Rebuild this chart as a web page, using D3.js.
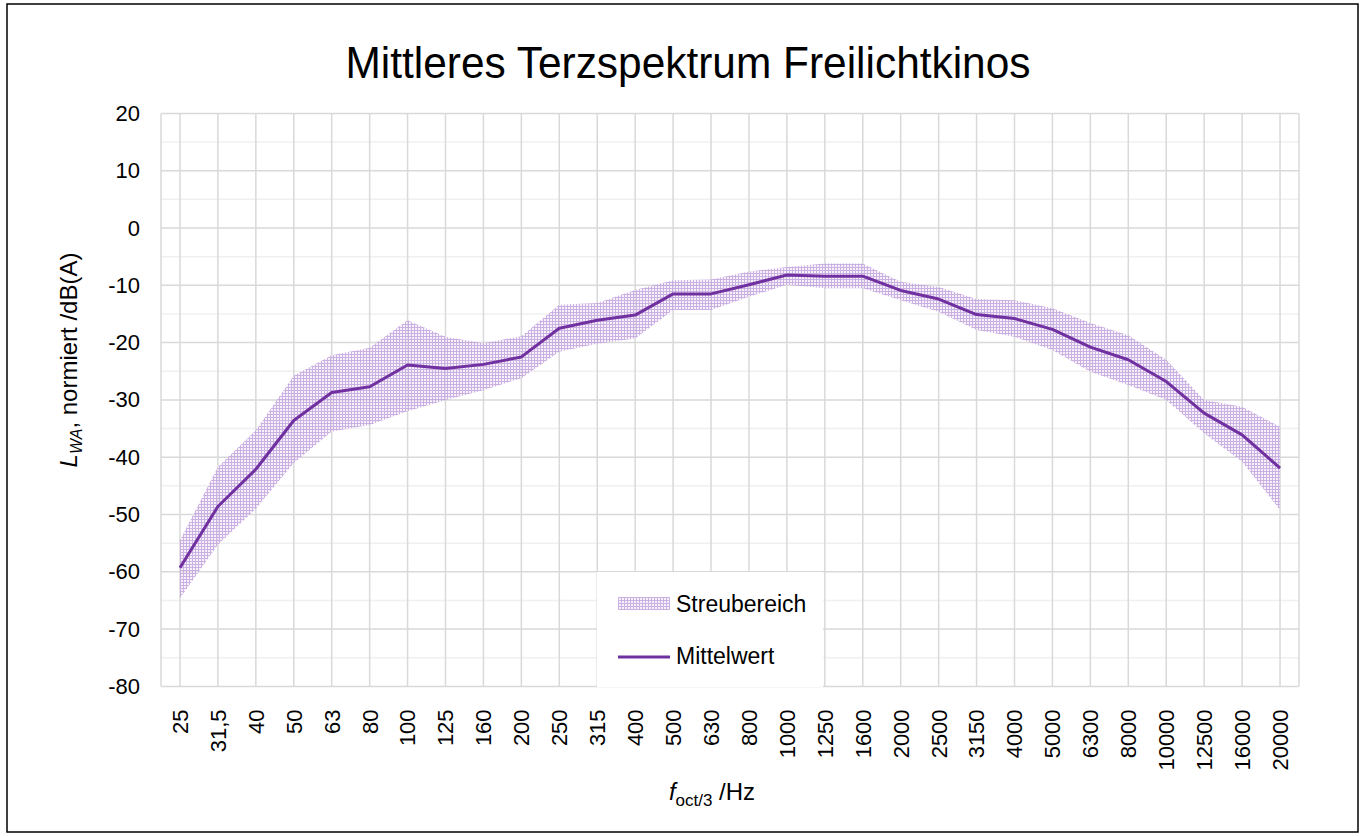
<!DOCTYPE html>
<html lang="de">
<head>
  <meta charset="UTF-8">
  <title>Mittleres Terzspektrum Freilichtkinos</title>
  <script src="https://d3js.org/d3.v7.min.js"></script>
  <style>
    body {
      margin: 0;
      background: #fff;
      font-family: "Liberation Sans", Arial, sans-serif;
    }
    svg text {
      fill: #000;
    }
    .grid-major line {
      stroke: #d9d9d9;
      stroke-width: 1.5px;
    }
    .grid-minor line {
      stroke: #f0f0f0;
      stroke-width: 1.5px;
    }
    .tick text {
      font-size: 22px;
    }
  </style>
</head>
<body>
  <svg id="chart" width="1360" height="836"></svg>

  <script>
    // Terzband-Mittenfrequenzen
    const categories = ["25", "31,5", "40", "50", "63", "80", "100", "125", "160", "200",
      "250", "315", "400", "500", "630", "800", "1000", "1250", "1600", "2000",
      "2500", "3150", "4000", "5000", "6300", "8000", "10000", "12500", "16000", "20000"];

    // Mittelwert
    const meanValues = [-59.3, -48.6, -42.1, -33.6, -28.7, -27.7, -23.9, -24.5, -23.8, -22.5,
      -17.5, -16.1, -15.2, -11.5, -11.5, -9.9, -8.2, -8.4, -8.4, -10.9,
      -12.4, -15.1, -15.8, -17.7, -20.8, -23.0, -26.8, -32.3, -36.1, -41.9];

    // Streubereich obere / untere Grenze
    const upperValues = [-54.5, -41.7, -35.3, -25.8, -22.2, -20.9, -16.1, -19.0, -20.1, -18.9,
      -13.4, -13.1, -10.8, -9.1, -9.0, -7.6, -6.8, -6.2, -6.2, -9.4,
      -10.3, -12.4, -12.6, -14.0, -16.6, -18.7, -23.0, -30.0, -31.2, -34.7];
    const lowerValues = [-64.6, -55.3, -49.0, -41.0, -35.5, -34.4, -32.0, -30.0, -28.3, -26.2,
      -21.6, -20.2, -19.3, -14.3, -14.3, -12.0, -9.9, -10.5, -10.5, -12.6,
      -14.6, -17.8, -19.0, -21.3, -25.1, -27.4, -30.0, -35.8, -40.8, -49.2];

    const yTicks = [20, 10, 0, -10, -20, -30, -40, -50, -60, -70, -80];

    const svg = d3.select("#chart");
    const plot = { left: 161, right: 1299, top: 113.4, bottom: 686.4 };
    const purple = "#7030a0";

    const x = d3.scaleBand().domain(categories).range([plot.left, plot.right]);
    const cx = c => x(c) + x.bandwidth() / 2;
    const y = d3.scaleLinear().domain([-80, 20]).range([plot.bottom, plot.top]);

    // outer frame
    svg.append("rect")
      .attr("x", 7).attr("y", 4)
      .attr("width", 1351).attr("height", 828)
      .attr("fill", "#fff")
      .attr("stroke", "#000")
      .attr("stroke-width", 1.5);

    // pattern for the scatter band
    const defs = svg.append("defs");
    const pat = defs.append("pattern")
      .attr("id", "grid-pattern")
      .attr("patternUnits", "userSpaceOnUse")
      .attr("width", 3).attr("height", 3);
    pat.append("rect").attr("width", 3).attr("height", 3).attr("fill", "#efe6f6").attr("opacity", 0.5);
    pat.append("path")
      .attr("d", "M0,0.5H3M0.5,0V3")
      .attr("stroke", "#b895d8")
      .attr("stroke-width", 1)
      .attr("opacity", 0.7);

    // minor gridlines (every 5)
    svg.append("g")
      .attr("class", "grid-minor")
      .selectAll("line")
      .data(d3.range(-75, 20, 10))
      .join("line")
      .attr("x1", plot.left).attr("x2", plot.right)
      .attr("y1", d => y(d)).attr("y2", d => y(d));

    // major gridlines
    svg.append("g")
      .attr("class", "grid-major")
      .selectAll("line")
      .data(yTicks)
      .join("line")
      .attr("x1", plot.left).attr("x2", plot.right)
      .attr("y1", d => y(d)).attr("y2", d => y(d));

    svg.append("g")
      .attr("class", "grid-major")
      .selectAll("line")
      .data(categories)
      .join("line")
      .attr("x1", d => cx(d)).attr("x2", d => cx(d))
      .attr("y1", plot.top).attr("y2", plot.bottom);

    svg.append("g")
      .attr("class", "grid-major")
      .selectAll("line")
      .data([plot.left, plot.right])
      .join("line")
      .attr("x1", d => d).attr("x2", d => d)
      .attr("y1", plot.top).attr("y2", plot.bottom);

    // band
    const band = d3.area()
      .x((d, i) => cx(categories[i]))
      .y0((d, i) => y(lowerValues[i]))
      .y1((d, i) => y(upperValues[i]));

    svg.append("path")
      .datum(categories)
      .attr("d", band)
      .attr("fill", "url(#grid-pattern)");

    // mean line
    const line = d3.line()
      .x((d, i) => cx(categories[i]))
      .y(d => y(d));

    svg.append("path")
      .datum(meanValues)
      .attr("d", line)
      .attr("fill", "none")
      .attr("stroke", purple)
      .attr("stroke-width", 3)
      .attr("stroke-linejoin", "round");

    // y axis
    const yAxis = svg.append("g")
      .attr("transform", `translate(${plot.left},0)`)
      .call(d3.axisLeft(y).tickValues(yTicks).tickFormat(d => String(d)).tickSize(0).tickPadding(21));
    yAxis.select(".domain").remove();
    yAxis.selectAll("text").attr("font-family", null);

    // x axis
    const xAxis = svg.append("g")
      .attr("transform", `translate(0,${plot.bottom})`)
      .call(d3.axisBottom(x).tickSize(0));
    xAxis.select(".domain").remove();
    xAxis.selectAll("text")
      .attr("font-family", null)
      .attr("transform", "rotate(-90)")
      .attr("text-anchor", "end")
      .attr("x", -23)
      .attr("y", 0)
      .attr("dy", "0.36em");

    // legend
    const legend = svg.append("g");
    legend.append("rect")
      .attr("x", 597).attr("y", 572)
      .attr("width", 226).attr("height", 115)
      .attr("fill", "#fff");
    legend.append("rect")
      .attr("x", 618).attr("y", 597)
      .attr("width", 52).attr("height", 13)
      .attr("fill", "url(#grid-pattern)");
    legend.append("line")
      .attr("x1", 618).attr("x2", 670)
      .attr("y1", 657).attr("y2", 657)
      .attr("stroke", purple)
      .attr("stroke-width", 3);
    legend.append("text")
      .attr("x", 676).attr("y", 612)
      .attr("font-size", 23)
      .text("Streubereich");
    legend.append("text")
      .attr("x", 676).attr("y", 664)
      .attr("font-size", 23)
      .text("Mittelwert");

    // title
    svg.append("text")
      .attr("x", 688).attr("y", 78)
      .attr("text-anchor", "middle")
      .attr("font-size", 45)
      .attr("textLength", 685)
      .attr("lengthAdjust", "spacingAndGlyphs")
      .text("Mittleres Terzspektrum Freilichtkinos");

    // y axis title
    const yTitle = svg.append("text")
      .attr("transform", "translate(77,360) rotate(-90)")
      .attr("text-anchor", "middle")
      .attr("font-size", 24);
    yTitle.append("tspan").attr("font-style", "italic").text("L");
    yTitle.append("tspan").attr("font-style", "italic").attr("font-size", 16).attr("dy", 5).text("WA");
    yTitle.append("tspan").attr("dy", -5).text(", normiert /dB(A)");

    // x axis title
    const xTitle = svg.append("text")
      .attr("x", 712).attr("y", 800)
      .attr("text-anchor", "middle")
      .attr("font-size", 24);
    xTitle.append("tspan").attr("font-style", "italic").text("f");
    xTitle.append("tspan").attr("font-size", 17).attr("dy", 6).text("oct/3");
    xTitle.append("tspan").attr("dy", -6).text(" /Hz");
  </script>
</body>
</html>
